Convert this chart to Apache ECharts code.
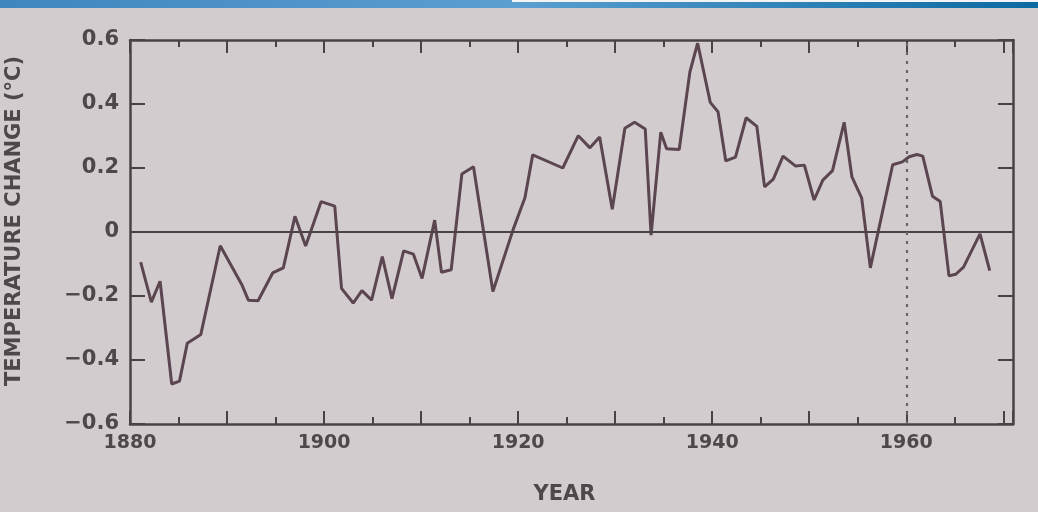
<!DOCTYPE html>
<html>
<head>
<meta charset="utf-8">
<script src="https://cdn.jsdelivr.net/npm/echarts@6/dist/echarts.min.js"></script>
<style>
html,body{margin:0;padding:0;background:#d3cccf;}
#c{width:1038px;height:512px;}
</style>
</head>
<body>
<div id="c"></div>
<script>
// Year positions of the traced curve vertices and temperature change (°C)
var years = [1881.1,1882.2,1883.1,1884.3,1885.1,1885.9,1887.3,1889.3,1891.5,1892.2,1893.2,1894.7,1895.8,1897.0,1898.1,1899.7,1901.1,1901.8,1903.0,1903.9,1904.9,1906.0,1907.0,1908.2,1909.2,1910.1,1911.4,1912.1,1913.1,1914.2,1915.4,1917.4,1919.5,1920.7,1921.5,1924.6,1926.2,1927.4,1928.4,1929.7,1931.0,1932.0,1933.1,1933.7,1934.7,1935.3,1936.6,1937.7,1938.5,1939.8,1940.6,1941.4,1942.4,1943.5,1944.6,1945.4,1946.3,1947.3,1948.6,1949.5,1950.5,1951.4,1952.4,1953.6,1954.4,1955.4,1956.3,1958.6,1959.6,1960.3,1961.1,1961.7,1962.7,1963.5,1964.4,1965.1,1965.9,1967.6,1968.6];
var temps = [-0.094,-0.219,-0.154,-0.475,-0.466,-0.348,-0.32,-0.043,-0.163,-0.213,-0.215,-0.128,-0.112,0.049,-0.044,0.095,0.081,-0.176,-0.222,-0.183,-0.213,-0.077,-0.208,-0.059,-0.069,-0.145,0.037,-0.126,-0.118,0.181,0.204,-0.186,0.009,0.107,0.241,0.2,0.301,0.263,0.297,0.071,0.324,0.343,0.322,-0.01,0.312,0.26,0.258,0.5,0.59,0.405,0.376,0.222,0.234,0.357,0.33,0.141,0.165,0.237,0.206,0.209,0.1,0.162,0.192,0.343,0.172,0.107,-0.112,0.21,0.219,0.235,0.242,0.237,0.112,0.095,-0.137,-0.132,-0.11,-0.006,-0.121];
var xLabelYears = [1880, 1900, 1920, 1940, 1960];
var yTicks = [-0.6, -0.4, -0.2, 0, 0.2, 0.4, 0.6];
var referenceYear = 1960;

var axisColor = '#4a4346';
var textColor = '#4d484a';
var lineColor = '#5a4550';
var font = 'DejaVu Sans';

var pts = years.map(function (y, i) { return [y, temps[i]]; });

function xAxisBase(pos, showLabel) {
  return {
    type: 'value', position: pos, min: 1880, max: 1971, interval: 10,
    axisLine: { show: true, onZero: false, lineStyle: { color: axisColor, width: 2.5 } },
    axisTick: { show: true, inside: true, length: 13, lineStyle: { color: axisColor, width: 2 } },
    minorTick: { show: true, splitNumber: 2, length: 7, lineStyle: { color: axisColor, width: 2 } },
    splitLine: { show: false },
    axisLabel: {
      show: showLabel, color: textColor, fontFamily: font, fontWeight: 'bold', fontSize: 19, margin: 10,
      formatter: function (v) { return xLabelYears.indexOf(v) >= 0 ? String(v) : ''; }
    }
  };
}
function yAxisBase(pos, showLabel) {
  return {
    type: 'value', position: pos, min: -0.6, max: 0.6, interval: 0.2,
    axisLine: { show: true, onZero: false, lineStyle: { color: axisColor, width: 2.5 } },
    axisTick: { show: true, inside: true, length: 15, lineStyle: { color: axisColor, width: 2 } },
    splitLine: { show: false },
    axisLabel: {
      show: showLabel, color: textColor, fontFamily: font, fontWeight: 'bold', fontSize: 21, margin: 11,
      formatter: function (v) {
        var r = Math.round(v * 10) / 10;
        if (r === 0) return '0';
        return (r < 0 ? '\u2212' : '') + Math.abs(r).toFixed(1);
      }
    }
  };
}

var xb = xAxisBase('bottom', true);
xb.name = 'YEAR'; xb.nameLocation = 'middle'; xb.nameGap = 60;
xb.nameTextStyle = { color: textColor, fontFamily: font, fontWeight: 'bold', fontSize: 21, padding: [0, 0, 0, -14] };
var xt = xAxisBase('top', false);
var yl = yAxisBase('left', true);
yl.name = 'TEMPERATURE CHANGE (\u00B0C)'; yl.nameLocation = 'middle'; yl.nameGap = 105; yl.nameRotate = 90;
yl.nameTextStyle = { color: textColor, fontFamily: font, fontWeight: 'bold', fontSize: 21, padding: [0, 0, 0, 22] };
var yr = yAxisBase('right', false);

var chart = echarts.init(document.getElementById('c'));
chart.setOption({
  backgroundColor: '#d3cccf',
  animation: false,
  graphic: [
    { type: 'rect', left: 0, top: 0, shape: { width: 512, height: 8 },
      style: { fill: new echarts.graphic.LinearGradient(0, 0, 1, 0, [{ offset: 0, color: '#3f86bf' }, { offset: 1, color: '#5a9fd0' }]) } },
    { type: 'rect', left: 512, top: 0, shape: { width: 526, height: 2 }, style: { fill: '#f4f4f4' } },
    { type: 'rect', left: 512, top: 2, shape: { width: 526, height: 6 },
      style: { fill: new echarts.graphic.LinearGradient(0, 0, 1, 0, [{ offset: 0, color: '#5a9fd0' }, { offset: 1, color: '#0b6aa2' }]) } }
  ],
  grid: { left: 130, right: 25, top: 40, bottom: 88, outerBoundsMode: 'none', containLabel: false },
  xAxis: [xb, xt],
  yAxis: [yl, yr],
  series: [{
    type: 'line', data: pts, xAxisIndex: 0, yAxisIndex: 0,
    symbol: 'none', smooth: false,
    lineStyle: { color: lineColor, width: 3 },
    markLine: {
      silent: true, symbol: 'none', label: { show: false },
      data: [
        { yAxis: 0, lineStyle: { color: axisColor, width: 2, type: 'solid' } },
        { xAxis: referenceYear, lineStyle: { color: '#6a6366', width: 2.2, type: [3, 6] } }
      ]
    }
  }]
});
</script>
</body>
</html>
